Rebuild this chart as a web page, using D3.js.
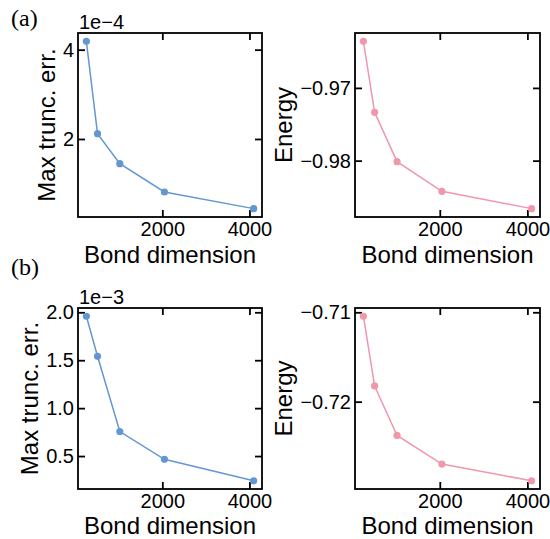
<!DOCTYPE html>
<html>
<head>
<meta charset="utf-8">
<script src="https://cdn.jsdelivr.net/npm/d3@7"></script>
<style>
  body { margin: 0; background: #fff; }
  svg { display: block; }
  text { font-family: 'Liberation Sans', Arial, Helvetica, sans-serif; fill: #000; }
  .panel-tag { font-family: 'Liberation Serif', 'DejaVu Serif', serif; }
</style>
</head>
<body>
<div id="frame"></div>
<script>
/* global d3 */

// values
const bondDims = [256, 512, 1024, 2048, 4096]
const xTicks = [2000, 4000]

// (a) max truncation error in units of 1e-4, energy
const errA = [4.186, 2.119, 1.447, 0.813, 0.44]
const energyA = [-0.9636, -0.97336, -0.98014, -0.98422, -0.9866]
const errTicksA = [2, 4]
const energyTicksA = [-0.98, -0.97]

// (b) max truncation error in units of 1e-3, energy
const errB = [1.959, 1.541, 0.756, 0.466, 0.242]
const energyB = [-0.71044, -0.71824, -0.72378, -0.72698, -0.72885]
const errTicksB = [0.5, 1.0, 1.5, 2.0]
const energyTicksB = [-0.72, -0.71]

const width = 550
const height = 539
const blue = '#6497d2'
const pink = '#f197ab'

const svg = d3.select('#frame')
  .append('svg')
  .attr('width', width)
  .attr('height', height)

const cols = [{x0: 78, x1: 262}, {x0: 355, x1: 540}]
const rows = [{y0: 33, y1: 217, lab: 46}, {y0: 308, y1: 489, lab: 45}]

const panels = [
  {col: 0, row: 0, values: errA, ticks: errTicksA, fmt: d3.format('d'), color: blue, label: 'Max trunc. err.', offset: '1e\u22124'},
  {col: 1, row: 0, values: energyA, ticks: energyTicksA, fmt: d3.format('.2f'), color: pink, label: 'Energy'},
  {col: 0, row: 1, values: errB, ticks: errTicksB, fmt: d3.format('.1f'), color: blue, label: 'Max trunc. err.', offset: '1e\u22123'},
  {col: 1, row: 1, values: energyB, ticks: energyTicksB, fmt: d3.format('.2f'), color: pink, label: 'Energy'}
]

panels.forEach(drawPanel)

svg.append('text').attr('class', 'panel-tag')
  .attr('x', 11).attr('y', 26).attr('font-size', 24).text('(a)')
svg.append('text').attr('class', 'panel-tag')
  .attr('x', 11).attr('y', 275).attr('font-size', 24).text('(b)')

function padded (ext) {
  const m = (ext[1] - ext[0]) * 0.05
  return [ext[0] - m, ext[1] + m]
}

function drawPanel (p) {
  const c = cols[p.col]
  const r = rows[p.row]
  const x = d3.scaleLinear().domain(padded(d3.extent(bondDims))).range([c.x0, c.x1])
  const y = d3.scaleLinear().domain(padded(d3.extent(p.values))).range([r.y1, r.y0])
  const g = svg.append('g')
  const tick = 7

  // ticks point inward on all four sides
  const bottom = g.append('g').attr('transform', `translate(0,${r.y1})`)
    .call(d3.axisBottom(x).tickValues(xTicks).tickSize(-tick).tickPadding(6).tickFormat(d3.format('d')))
  g.append('g').attr('transform', `translate(0,${r.y0})`)
    .call(d3.axisTop(x).tickValues(xTicks).tickSize(-tick).tickFormat(''))
  const left = g.append('g').attr('transform', `translate(${c.x0},0)`)
    .call(d3.axisLeft(y).tickValues(p.ticks).tickSize(-tick).tickPadding(4).tickFormat(p.fmt))
  g.append('g').attr('transform', `translate(${c.x1},0)`)
    .call(d3.axisRight(y).tickValues(p.ticks).tickSize(-tick).tickFormat(''))

  g.selectAll('.domain').remove()
  g.selectAll('.tick line').attr('stroke', '#000').attr('stroke-width', 1.8)
  g.selectAll('.tick text').attr('font-size', 20).attr('font-family', null).attr('fill', '#000')
  bottom.selectAll('.tick text').attr('dy', null).attr('y', 19)

  g.append('rect')
    .attr('x', c.x0).attr('y', r.y0)
    .attr('width', c.x1 - c.x0).attr('height', r.y1 - r.y0)
    .attr('fill', 'none').attr('stroke', '#000').attr('stroke-width', 1.8)

  const pts = bondDims.map((d, i) => [d, p.values[i]])
  g.append('path')
    .datum(pts)
    .attr('fill', 'none')
    .attr('stroke', p.color)
    .attr('stroke-width', 1.5)
    .attr('d', d3.line().x(d => x(d[0])).y(d => y(d[1])))
  g.selectAll('circle.pt')
    .data(pts)
    .enter()
    .append('circle')
    .attr('class', 'pt')
    .attr('cx', d => x(d[0]))
    .attr('cy', d => y(d[1]))
    .attr('r', 3.6)
    .attr('fill', p.color)

  // y label sits left of the widest tick label
  let minX = c.x0
  left.selectAll('.tick text').each(function () {
    const b = this.getBBox()
    const tx = c.x0 + b.x
    if (tx < minX) minX = tx
  })
  const lx = minX - 8
  const ly = (r.y0 + r.y1) / 2
  g.append('text')
    .attr('transform', `translate(${lx},${ly}) rotate(-90)`)
    .attr('text-anchor', 'middle')
    .attr('font-size', 24)
    .text(p.label)

  g.append('text')
    .attr('x', (c.x0 + c.x1) / 2)
    .attr('y', r.y1 + r.lab)
    .attr('text-anchor', 'middle')
    .attr('font-size', 24)
    .text('Bond dimension')

  if (p.offset) {
    g.append('text')
      .attr('x', c.x0 + 1)
      .attr('y', r.y0 - 4)
      .attr('font-size', 20)
      .text(p.offset)
  }
}
</script>
</body>
</html>
